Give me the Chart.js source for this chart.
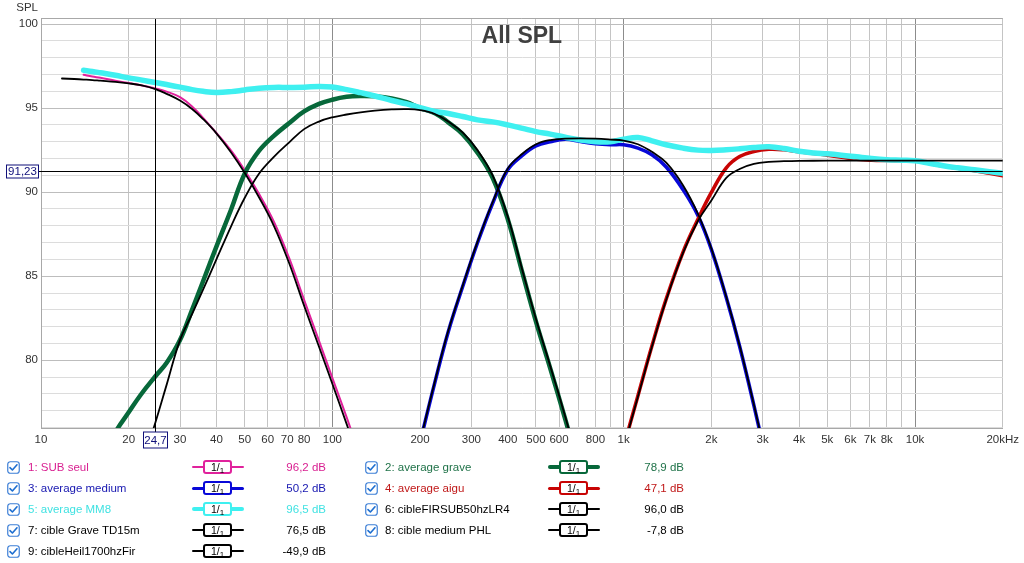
<!DOCTYPE html>
<html>
<head>
<meta charset="utf-8">
<script src="https://cdn.jsdelivr.net/npm/chart.js@4.4.1/dist/chart.umd.min.js"></script>
<style>
html,body{margin:0;padding:0;background:#fff;width:1024px;height:563px;overflow:hidden;font-family:"Liberation Sans",Arial,sans-serif;}
#wrap{position:absolute;left:0;top:0;width:1024px;height:452px;}
#legend{position:absolute;left:0;top:0;width:1024px;height:563px;pointer-events:none;}
.lab{position:absolute;font-size:11.5px;line-height:14px;white-space:nowrap;}
.val{position:absolute;font-size:11.5px;line-height:14px;white-space:nowrap;text-align:right;width:80px;}
.cb{position:absolute;width:13px;height:13px;}
.smp{position:absolute;width:52px;height:14px;}
.smp .ln{position:absolute;left:0;width:52px;}
.smp .bx{position:absolute;left:11px;top:0;width:25px;height:10px;border-width:2px;border-style:solid;border-radius:3px;background:#fff;font-size:10.5px;line-height:10px;text-align:center;color:#000;}
.smp .bx .s{font-size:8px;position:relative;top:2px;}
</style>
</head>
<body>
<div id="wrap"><canvas id="c" width="1024" height="452"></canvas></div>
<div id="legend"></div>
<script>
// ---------------- data ----------------
const subFreq = [14, 15, 16, 18, 20, 22, 24.7, 27, 30, 33, 36, 40, 45, 50, 56, 63, 71, 80, 90, 100, 112, 125];
const subDb   = [96.98, 96.88, 96.8, 96.63, 96.49, 96.36, 96.17, 95.98, 95.65, 95.1, 94.42, 93.52, 92.45, 91.3, 89.9, 88.25, 86.1, 83.6, 81.15, 78.95, 76.6, 74.2];

const graveFreq = [16, 18, 20, 22, 24.7, 27, 30, 33, 36, 40, 45, 50, 56, 63, 71, 80, 90, 100, 112, 125, 140, 160, 180, 200, 225, 250, 280, 315, 355, 400, 450, 500, 560, 630, 710];
const graveDb   = [73.6, 75.7, 76.9, 77.95, 79.05, 79.85, 81.2, 83.0, 84.7, 86.76, 89.0, 91.1, 92.45, 93.35, 94.1, 94.8, 95.25, 95.5, 95.67, 95.72, 95.7, 95.58, 95.35, 95.0, 94.7, 94.15, 93.45, 92.35, 90.85, 88.4, 85.15, 82.3, 79.5, 76.5, 73.3];

const medFreq = [180, 200, 225, 250, 280, 315, 355, 400, 450, 500, 560, 630, 710, 800, 900, 1000, 1120, 1250, 1400, 1600, 1800, 2000, 2250, 2500, 2800, 3150];
const medDb   = [71.8, 75.1, 78.7, 81.7, 84.37, 86.99, 89.34, 91.33, 92.2, 92.75, 93.0, 93.15, 93.02, 92.88, 92.82, 92.82, 92.62, 92.22, 91.5, 90.14, 88.6, 86.6, 83.73, 80.83, 77.3, 73.4];

const aiguFreq = [900, 1000, 1120, 1250, 1400, 1600, 1800, 2000, 2250, 2500, 2800, 3150, 3550, 4000, 4500, 5000, 5600, 6300, 7100, 8000, 9000, 10000, 11200, 12500, 14000, 16000, 18000, 20000];
const aiguDb   = [72.0, 74.86, 77.9, 80.85, 83.65, 86.45, 88.4, 89.98, 91.45, 92.12, 92.42, 92.55, 92.52, 92.4, 92.3, 92.2, 92.08, 91.96, 91.9, 91.88, 91.87, 91.85, 91.7, 91.55, 91.42, 91.28, 91.12, 90.97];

const mm8Freq = [14, 15, 16, 18, 20, 22, 24.7, 27, 30, 33, 36, 40, 45, 50, 56, 63, 71, 80, 90, 100, 112, 125, 140, 160, 180, 200, 225, 250, 280, 315, 355, 400, 450, 500, 560, 630, 710, 800, 900, 1000, 1120, 1250, 1400, 1600, 1800, 2000, 2250, 2500, 2800, 3150, 3550, 4000, 4500, 5000, 5600, 6300, 7100, 8000, 9000, 10000, 11200, 12500, 14000, 16000, 18000, 20000];
const mm8Db   = [97.25, 97.18, 97.1, 96.95, 96.8, 96.68, 96.52, 96.4, 96.25, 96.1, 96.0, 95.93, 95.98, 96.08, 96.18, 96.23, 96.23, 96.24, 96.29, 96.25, 96.1, 95.92, 95.72, 95.45, 95.25, 95.03, 94.8, 94.68, 94.5, 94.3, 94.18, 94.0, 93.79, 93.6, 93.45, 93.27, 93.1, 93.0, 93.0, 93.15, 93.25, 93.05, 92.82, 92.62, 92.5, 92.48, 92.52, 92.58, 92.66, 92.7, 92.6, 92.43, 92.33, 92.28, 92.2, 92.1, 92.0, 91.93, 91.9, 91.87, 91.72, 91.57, 91.45, 91.33, 91.22, 91.13];

const lr4Freq = [11.8, 13, 14, 15, 16, 18, 20, 22, 24.7, 27, 30, 33, 36, 40, 45, 50, 56, 63, 71, 80, 90, 100, 112, 125];
const lr4Db   = [96.76, 96.73, 96.7, 96.67, 96.63, 96.56, 96.47, 96.36, 96.13, 95.85, 95.45, 94.95, 94.35, 93.5, 92.35, 91.15, 89.7, 88.0, 85.8, 83.25, 80.8, 78.6, 76.2, 73.8];

const graveTFreq = [22, 24.7, 27, 30, 33, 36, 40, 45, 50, 56, 63, 71, 80, 90, 100, 112, 125, 140, 160, 180, 200, 225, 250, 280, 315, 355, 400, 450, 500, 560, 630, 710];
const graveTDb   = [73.6, 76.3, 78.55, 81.2, 82.75, 84.2, 86.0, 88.0, 89.65, 91.1, 92.1, 92.95, 93.75, 94.2, 94.45, 94.62, 94.75, 94.85, 94.92, 94.94, 94.88, 94.65, 94.2, 93.55, 92.5, 91.0, 88.55, 85.3, 82.45, 79.65, 76.65, 73.45];

const medTFreq = [180, 200, 225, 250, 280, 315, 355, 400, 450, 500, 560, 630, 710, 800, 900, 1000, 1120, 1250, 1400, 1600, 1800, 2000, 2250, 2500, 2800, 3150];
const medTDb   = [71.85, 75.15, 78.75, 81.75, 84.42, 87.04, 89.4, 91.4, 92.3, 92.85, 93.1, 93.18, 93.2, 93.18, 93.13, 93.07, 92.85, 92.4, 91.75, 90.4, 88.7, 86.65, 83.78, 80.88, 77.35, 73.45];

const heilFreq = [900, 1000, 1120, 1250, 1400, 1600, 1800, 2000, 2250, 2500, 2800, 3150, 3550, 4000, 5000, 6300, 8000, 10000, 14000, 20000];
const heilDb   = [71.95, 74.8, 77.85, 80.8, 83.6, 86.4, 88.3, 89.5, 90.85, 91.38, 91.68, 91.8, 91.84, 91.86, 91.87, 91.87, 91.87, 91.87, 91.87, 91.87];

const legendLabels = ['1: SUB seul','2: average grave','3: average medium','4: average aigu','5: average MM8','6: cibleFIRSUB50hzLR4','7: cible Grave TD15m','8: cible medium PHL','9: cibleHeil1700hzFir'];
const legendValues = ['96,2 dB','78,9 dB','50,2 dB','47,1 dB','96,5 dB','96,0 dB','76,5 dB','-7,8 dB','-49,9 dB'];

const xGridValues = [10,20,30,40,50,60,70,80,90,100,200,300,400,500,600,700,800,900,1000,2000,3000,4000,5000,6000,7000,8000,9000,10000,20000];
const xLabelValues = [10,20,30,40,50,60,70,80,100,200,300,400,500,600,800,1000,2000,3000,4000,5000,6000,7000,8000,10000,20000];
const xLabelTexts  = ['10','20','30','40','50','60','70','80','100','200','300','400','500','600','800','1k','2k','3k','4k','5k','6k','7k','8k','10k','20kHz'];
const xDecades = [10,100,1000,10000];
const yGridValues = [76,77,78,79,80,81,82,83,84,85,86,87,88,89,90,91,92,93,94,95,96,97,98,99,100];
const yLabelValues = [80,85,90,95,100];
const cursorX = 24.7, cursorXText = '24,7';
const cursorY = 91.23, cursorYText = '91,23';

// ---------------- styles ----------------
const FONT = "'Liberation Sans', Arial, sans-serif";
const series = [
  {f:subFreq,   d:subDb,    color:'#e0229c', text:'#d81e90', w:2,   order:9},
  {f:graveFreq, d:graveDb,  color:'#07683a', text:'#1f7248', w:4.5, order:8},
  {f:medFreq,   d:medDb,    color:'#0808d8', text:'#1616b0', w:3.6, order:7},
  {f:aiguFreq,  d:aiguDb,   color:'#c80404', text:'#c01818', w:3.6, order:6},
  {f:mm8Freq,   d:mm8Db,    color:'#3ff0f0', text:'#40e2e2', w:5.5, order:5},
  {f:lr4Freq,   d:lr4Db,    color:'#000000', text:'#000000', w:1.8, order:4},
  {f:graveTFreq,d:graveTDb, color:'#000000', text:'#000000', w:1.8, order:3},
  {f:medTFreq,  d:medTDb,   color:'#000000', text:'#000000', w:1.8, order:2},
  {f:heilFreq,  d:heilDb,   color:'#000000', text:'#000000', w:1.8, order:1}
];

const datasets = series.map((s,i)=>({
  label: legendLabels[i],
  data: s.f.map((f,k)=>({x:f, y:s.d[k]})),
  borderColor: s.color,
  borderWidth: s.w,
  pointRadius: 0,
  fill: false,
  tension: 0.4,
  borderCapStyle: 'round',
  borderJoinStyle: 'round',
  clip: 0,
  order: s.order
}));

const overlay = {
  id: 'overlay',
  afterDatasetsDraw(chart){
    const {ctx, chartArea:a, scales:{x, y}} = chart;
    const cx = Math.round(x.getPixelForValue(cursorX)) + 0.5;
    const cy = Math.round(y.getPixelForValue(cursorY)) + 0.5;
    ctx.save();
    ctx.strokeStyle = '#000'; ctx.lineWidth = 1;
    ctx.beginPath();
    ctx.moveTo(cx, a.top); ctx.lineTo(cx, a.bottom + 4);
    ctx.moveTo(38, cy); ctx.lineTo(a.right, cy);
    ctx.stroke();
    ctx.restore();
  },
  afterDraw(chart){
    const {ctx, chartArea:a, scales:{x, y}} = chart;
    const cx = Math.round(x.getPixelForValue(cursorX)) + 0.5;
    const cy = Math.round(y.getPixelForValue(cursorY)) + 0.5;
    ctx.save();
    ctx.strokeStyle = '#a8a8a8'; ctx.lineWidth = 1;
    ctx.beginPath(); ctx.moveTo(a.left, a.top + 0.5); ctx.lineTo(a.right, a.top + 0.5); ctx.stroke();
    ctx.fillStyle = '#fff'; ctx.strokeStyle = '#10107a';
    ctx.fillRect(cx - 12, 432, 24, 16); ctx.strokeRect(cx - 12, 432, 24, 16);
    ctx.fillRect(6.5, cy - 6.5, 32, 13); ctx.strokeRect(6.5, cy - 6.5, 32, 13);
    ctx.fillStyle = '#10107a'; ctx.font = '11.5px ' + FONT;
    ctx.textAlign = 'center'; ctx.textBaseline = 'middle';
    ctx.fillText(cursorXText, cx, 440.5);
    ctx.fillText(cursorYText, 22.5, cy + 0.5);
    ctx.fillStyle = '#333'; ctx.textAlign = 'right'; ctx.textBaseline = 'middle';
    ctx.font = '11.5px ' + FONT;
    ctx.fillText('SPL', 38, 8);
    ctx.fillStyle = '#404040'; ctx.textAlign = 'center'; ctx.textBaseline = 'alphabetic';
    ctx.font = 'bold 23px ' + FONT;
    ctx.fillText('All SPL', (a.left + a.right) / 2, 43);
    ctx.restore();
  }
};

new Chart(document.getElementById('c'), {
  type: 'line',
  data: { datasets },
  options: {
    responsive: false,
    animation: false,
    events: [],
    layout: { padding: { left: 0, right: 20, top: 18, bottom: 0 } },
    plugins: { legend: { display: false }, tooltip: { enabled: false }, title: { display: false } },
    scales: {
      x: {
        type: 'logarithmic', min: 10, max: 20000,
        afterBuildTicks: s => { s.ticks = xGridValues.map(v => ({value: v})); },
        afterFit: s => { s.height = 24; },
        ticks: {
          autoSkip: false, maxRotation: 0, minRotation: 0, padding: 5,
          color: '#333', font: { family: FONT, size: 11.5 },
          callback: v => { const i = xLabelValues.indexOf(v); return i >= 0 ? xLabelTexts[i] : ''; }
        },
        grid: { drawTicks: false, lineWidth: 1, color: c => xDecades.includes(c.tick && c.tick.value) ? '#8c8c8c' : '#c4c4c4' },
        border: { display: true, color: '#a8a8a8' }
      },
      y: {
        type: 'linear', min: 75.97, max: 100.36,
        afterBuildTicks: s => { s.ticks = yGridValues.map(v => ({value: v})); },
        afterFit: s => { s.width = 41; },
        ticks: {
          padding: 3, color: '#333', font: { family: FONT, size: 11.5 },
          callback: v => yLabelValues.includes(v) ? String(v) : ''
        },
        grid: { drawTicks: false, lineWidth: 1, color: c => (c.tick && c.tick.value % 5 === 0) ? '#bdbdbd' : '#dcdcdc' },
        border: { display: true, color: '#a8a8a8' }
      }
    }
  },
  plugins: [overlay]
});

// ---------------- legend ----------------
const leg = document.getElementById('legend');
const colX = [{cb:7, lab:28, smp:192, val:326}, {cb:365, lab:385, smp:548, val:684}];
legendLabels.forEach((name, i) => {
  const col = colX[i % 2];
  const cyRow = 467 + 21 * Math.floor(i / 2);
  const s = series[i];
  const cb = document.createElement('div');
  cb.className = 'cb'; cb.style.left = col.cb + 'px'; cb.style.top = (cyRow - 7) + 'px';
  cb.innerHTML = '<svg width="13" height="13" viewBox="0 0 13 13"><rect x="0.75" y="0.75" width="11.5" height="11.5" rx="2.5" fill="#fff" stroke="#3d7fd6" stroke-width="1.2"/><path d="M3 6.6 L5.4 9 L10 3.8" fill="none" stroke="#1d6ed0" stroke-width="1.6" stroke-linecap="round" stroke-linejoin="round"/></svg>';
  leg.appendChild(cb);
  const lab = document.createElement('div');
  lab.className = 'lab'; lab.style.left = col.lab + 'px'; lab.style.top = (cyRow - 7) + 'px';
  lab.style.color = s.text; lab.textContent = name;
  leg.appendChild(lab);
  const smp = document.createElement('div');
  smp.className = 'smp'; smp.style.left = col.smp + 'px'; smp.style.top = (cyRow - 7) + 'px';
  const lw = Math.max(2, Math.round(s.w * 0.8));
  smp.innerHTML = '<div class="ln" style="top:' + (7 - lw / 2) + 'px;height:' + lw + 'px;background:' + s.color + ';border-radius:' + (lw/2) + 'px"></div>' +
    '<div class="bx" style="border-color:' + s.color + '">1/<span class="s">1</span></div>';
  leg.appendChild(smp);
  const val = document.createElement('div');
  val.className = 'val'; val.style.left = (col.val - 80) + 'px'; val.style.top = (cyRow - 7) + 'px';
  val.style.color = s.text; val.textContent = legendValues[i];
  leg.appendChild(val);
});
</script>
</body>
</html>
